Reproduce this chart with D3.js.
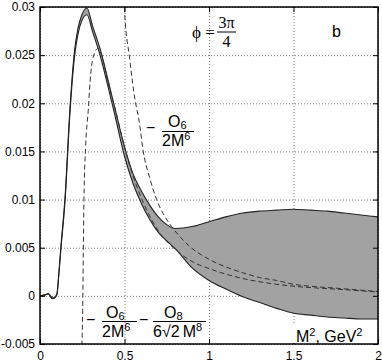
<!DOCTYPE html>
<html>
<head>
<meta charset="utf-8">
<script src="https://cdn.jsdelivr.net/npm/d3@7"></script>
<style>
  body { margin: 0; background: #fff; }
  text { font-family: "Liberation Sans", Arial, sans-serif; fill: #000; }
</style>
</head>
<body>
<svg id="chart" width="382" height="363"></svg>
<script>

// band of the full sum rule (upper and lower edge)
var bandX     = [0, 0.03, 0.05, 0.062, 0.074, 0.088, 0.1, 0.112, 0.124, 0.148, 0.178, 0.204, 0.225, 0.248, 0.278, 0.31, 0.36, 0.4, 0.44, 0.5, 0.55, 0.6, 0.65, 0.7, 0.75, 0.8, 0.9, 1.0, 1.1, 1.2, 1.3, 1.4, 1.5, 1.6, 1.7, 1.8, 1.9, 2.0];
var bandUpper = [0, 0.0001, 0.00025, 0.0, -0.0002, -0.0001, 0.0002, 0.0025, 0.0052, 0.0102, 0.0197, 0.0254, 0.0278, 0.0292, 0.0299, 0.0281, 0.0254, 0.0226, 0.0197, 0.0155, 0.0127, 0.0109, 0.0094, 0.0082, 0.0074, 0.0070, 0.0072, 0.0077, 0.0082, 0.0086, 0.0088, 0.0089, 0.0090, 0.0089, 0.0088, 0.0086, 0.0084, 0.0082];
var bandLower = [0, 0.0001, 0.0002, -0.0001, -0.0003, -0.0002, 0.0001, 0.0023, 0.0049, 0.0098, 0.0192, 0.0248, 0.0272, 0.0286, 0.0292, 0.0275, 0.0247, 0.0219, 0.0190, 0.0145, 0.0117, 0.0096, 0.0079, 0.0066, 0.0057, 0.0049, 0.0029, 0.0016, 0.0007, -0.0001, -0.0007, -0.0013, -0.0018, -0.0020, -0.0022, -0.0023, -0.0024, -0.0024];

// dashed curve  -O6/2M^6
var o6X = [0.494, 0.499, 0.53, 0.562, 0.588, 0.611, 0.65, 0.69, 0.74, 0.779, 0.83, 0.888, 1.0, 1.1, 1.2, 1.3, 1.4, 1.5, 1.6, 1.75, 2.0];
var o6Y = [0.0325, 0.0300, 0.0247, 0.0204, 0.0180, 0.0150, 0.0122, 0.0100, 0.0082, 0.0072, 0.0061, 0.0051, 0.0038, 0.0030, 0.0024, 0.0019, 0.0016, 0.0012, 0.0010, 0.0008, 0.00045];

// dashed curve  O6/2M^6 - O8/(6 sqrt2 M^8)
var o8X = [0.246, 0.2525, 0.256, 0.26, 0.27, 0.286, 0.296, 0.315, 0.343, 0.365, 0.4, 0.444, 0.5, 0.533, 0.611, 0.71, 0.789, 0.907, 1.006, 1.2, 1.36, 1.5, 1.75, 2.0];
var o8Y = [-0.006, -0.0015, 0.004, 0.0100, 0.0155, 0.0194, 0.0222, 0.0248, 0.0257, 0.0250, 0.0223, 0.0195, 0.0154, 0.0134, 0.0097, 0.0065, 0.0050, 0.0035, 0.0028, 0.0018, 0.0013, 0.0010, 0.0007, 0.0004];

var xTicks = [0, 0.5, 1, 1.5, 2];
var xTickLabels = ["0", "0.5", "1", "1.5", "2"];
var yTicks = [-0.005, 0, 0.005, 0.01, 0.015, 0.02, 0.025, 0.03];
var yTickLabels = ["-0.005", "0", "0.005", "0.01", "0.015", "0.02", "0.025", "0.03"];

var margin = {top: 7, right: 4, bottom: 19, left: 40},
    width = 382 - margin.left - margin.right,
    height = 363 - margin.top - margin.bottom;

var x = d3.scaleLinear().domain([0, 2]).range([0, width]);
var y = d3.scaleLinear().domain([-0.005, 0.03]).range([height, 0]);

var svg = d3.select("#chart")
  .append("g")
    .attr("transform", "translate(" + margin.left + "," + margin.top + ")");

svg.append("clipPath").attr("id", "plotclip")
  .append("rect").attr("width", width).attr("height", height);

// dotted grid
svg.append("g")
    .call(d3.axisBottom(x).tickValues(xTicks).tickSize(height).tickFormat(""))
    .call(function(g) { g.select(".domain").remove(); })
    .selectAll("line").attr("stroke", "#777").attr("stroke-dasharray", "1,2");
svg.append("g")
    .call(d3.axisLeft(y).tickValues(yTicks).tickSize(-width).tickFormat(""))
    .call(function(g) { g.select(".domain").remove(); })
    .selectAll("line").attr("stroke", "#777").attr("stroke-dasharray", "1,2");

var plot = svg.append("g").attr("clip-path", "url(#plotclip)");

// the gray band
var bandData = bandX.map(function(d, i) { return {x: d, lo: bandLower[i], hi: bandUpper[i]}; });
var band = d3.area()
    .x(function(d) { return x(d.x); })
    .y0(function(d) { return y(d.lo); })
    .y1(function(d) { return y(d.hi); })
    .curve(d3.curveMonotoneX);
plot.append("path").datum(bandData)
    .attr("d", band)
    .attr("fill", "#a2a2a2");

var line = d3.line()
    .x(function(d) { return x(d[0]); })
    .y(function(d) { return y(d[1]); })
    .curve(d3.curveMonotoneX);

function zipXY(xs, ys) {
  return xs.map(function(d, i) { return [d, ys[i]]; });
}

plot.append("path").datum(zipXY(bandX, bandUpper))
    .attr("d", line).attr("fill", "none").attr("stroke", "#222").attr("stroke-width", 1.1);
plot.append("path").datum(zipXY(bandX, bandLower))
    .attr("d", line).attr("fill", "none").attr("stroke", "#222").attr("stroke-width", 1.1);

plot.append("path").datum(zipXY(o6X, o6Y))
    .attr("d", line).attr("fill", "none").attr("stroke", "#333")
    .attr("stroke-width", 1).attr("stroke-dasharray", "5,3");
plot.append("path").datum(zipXY(o8X, o8Y))
    .attr("d", line).attr("fill", "none").attr("stroke", "#333")
    .attr("stroke-width", 1).attr("stroke-dasharray", "5,3");

// axes, inward ticks on all four sides
svg.append("g")
    .attr("transform", "translate(0," + height + ")")
    .call(d3.axisBottom(x).tickValues(xTicks).tickSizeInner(-5).tickSizeOuter(0)
          .tickFormat(function(d, i) { return xTickLabels[i]; }))
    .call(function(g) {
      g.selectAll("text").attr("dy", null).attr("y", 16).style("font-size", "12px");
    });
svg.append("g")
    .call(d3.axisTop(x).tickValues(xTicks).tickSizeInner(-5).tickSizeOuter(0).tickFormat(""));
svg.append("g")
    .call(d3.axisLeft(y).tickValues(yTicks).tickSizeInner(-5).tickSizeOuter(0)
          .tickFormat(function(d, i) { return yTickLabels[i]; }))
    .call(function(g) {
      g.selectAll("text").attr("x", -5).style("font-size", "12px");
    });
svg.append("g")
    .attr("transform", "translate(" + width + ",0)")
    .call(d3.axisRight(y).tickValues(yTicks).tickSizeInner(-5).tickSizeOuter(0).tickFormat(""));

svg.selectAll(".domain").remove();
svg.selectAll(".tick line").filter(function() { return !this.getAttribute("stroke-dasharray"); })
    .attr("stroke", "#000");

svg.append("rect")
    .attr("width", width).attr("height", height)
    .attr("fill", "none").attr("stroke", "#000").attr("stroke-width", 1.5);

// labels (page coordinates)
var lab = d3.select("#chart").append("g");

function frac(g, x0, x1, yBar) {
  g.append("line").attr("x1", x0).attr("x2", x1).attr("y1", yBar).attr("y2", yBar)
    .attr("stroke", "#000").attr("stroke-width", 1);
}

// phi = 3pi/4
lab.append("text").attr("x", 192).attr("y", 38)
    .style("font-family", "'Liberation Serif', 'DejaVu Serif', serif").style("font-size", "17px")
    .text("\u03D5 =");
lab.append("text").attr("x", 226.5).attr("y", 28).attr("text-anchor", "middle")
    .style("font-family", "'Liberation Serif', 'DejaVu Serif', serif").style("font-size", "16px")
    .text("3\u03C0");
frac(lab, 217, 236, 32);
lab.append("text").attr("x", 226.5).attr("y", 47).attr("text-anchor", "middle")
    .style("font-family", "'Liberation Serif', 'DejaVu Serif', serif").style("font-size", "16px")
    .text("4");

lab.append("text").attr("x", 332).attr("y", 37).style("font-size", "16px").text("b");

// -O6/2M^6 label
lab.append("text").attr("x", 146).attr("y", 133).style("font-size", "16px").text("\u2212");
lab.append("text").attr("x", 168).attr("y", 127).style("font-size", "16px")
    .text("O").append("tspan").attr("dy", 2).style("font-size", "11px").text("6");
frac(lab, 162, 194, 131.5);
lab.append("text").attr("x", 162).attr("y", 145.5).style("font-size", "16px")
    .text("2M").append("tspan").attr("dy", -6).style("font-size", "11px").text("6");

// O6/2M^6 - O8/(6 sqrt2 M^8) label
lab.append("text").attr("x", 86).attr("y", 325).style("font-size", "16px").text("\u2212");
lab.append("text").attr("x", 106).attr("y", 318).style("font-size", "16px")
    .text("O").append("tspan").attr("dy", 2).style("font-size", "11px").text("6");
frac(lab, 102, 137, 321.5);
lab.append("text").attr("x", 102).attr("y", 336.5).style("font-size", "16px")
    .text("2M").append("tspan").attr("dy", -6).style("font-size", "11px").text("6");
lab.append("text").attr("x", 139).attr("y", 325).style("font-size", "16px").text("\u2212");
lab.append("text").attr("x", 164).attr("y", 318).style("font-size", "16px")
    .text("O").append("tspan").attr("dy", 2).style("font-size", "11px").text("8");
frac(lab, 153, 206, 321.5);
lab.append("text").attr("x", 153).attr("y", 336.5).style("font-size", "16px")
    .text("6\u221A2\u2009M").append("tspan").attr("dy", -6).style("font-size", "11px").text("8");

// axis title with white box
lab.append("rect").attr("x", 290).attr("y", 325).attr("width", 87).attr("height", 18).attr("fill", "#fff");
var xt = lab.append("text").attr("x", 296).attr("y", 342).style("font-size", "16px");
xt.append("tspan").text("M");
xt.append("tspan").attr("dy", -6).style("font-size", "11px").text("2");
xt.append("tspan").attr("dy", 6).text(", GeV");
xt.append("tspan").attr("dy", -6).style("font-size", "11px").text("2");

</script>
</body>
</html>
